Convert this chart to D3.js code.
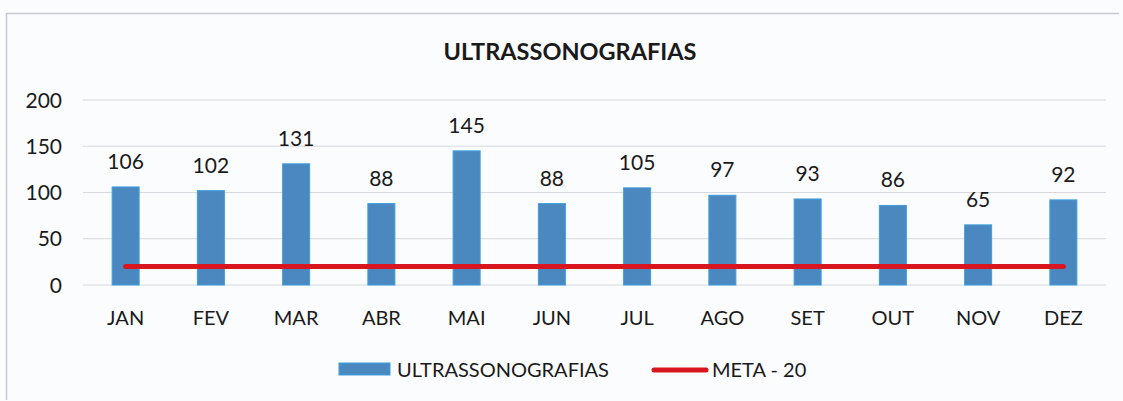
<!DOCTYPE html>
<html lang="pt">
<head>
    <meta charset="UTF-8">
    <title>Ultrassonografias</title>
    <style>
        body { margin: 0; padding: 0; background: #fbfcfe; overflow: hidden; }
        svg { display: block; font-family: Lato, "Open Sans", sans-serif; }
    </style>
</head>
<body>
    <script src="https://d3js.org/d3.v7.min.js"></script>
    <script>
        // data
        const months = ["JAN", "FEV", "MAR", "ABR", "MAI", "JUN", "JUL", "AGO", "SET", "OUT", "NOV", "DEZ"];
        const exams = [106, 102, 131, 88, 145, 88, 105, 97, 93, 86, 65, 92];
        const goal = [20, 20, 20, 20, 20, 20, 20, 20, 20, 20, 20, 20];
        const yTicks = [0, 50, 100, 150, 200];

        const width = 1123, height = 401;
        const svg = d3.select("body").append("svg")
            .attr("width", width)
            .attr("height", height);

        // faint outer frame (top and left edges visible)
        svg.append("path")
            .attr("d", "M6.5,400 L6.5,13.5 L1119,13.5")
            .attr("fill", "none")
            .attr("stroke", "#c4c8d0")
            .attr("stroke-width", 1.5);

        const x = d3.scaleBand().domain(months).range([83, 1106]);
        const y = d3.scaleLinear().domain([0, 200]).range([285, 100]);

        // gridlines
        svg.append("g").selectAll("line")
            .data(yTicks)
            .enter().append("line")
            .attr("x1", 83).attr("x2", 1106)
            .attr("y1", d => y(d)).attr("y2", d => y(d))
            .attr("stroke", "#d6d9de")
            .attr("stroke-width", 1);

        // y axis labels
        svg.append("g").selectAll("text")
            .data(yTicks)
            .enter().append("text")
            .attr("x", 62)
            .attr("y", d => y(d))
            .attr("dy", "0.36em")
            .attr("text-anchor", "end")
            .attr("font-size", 21)
            .attr("fill", "#1a1a1a")
            .text(d => d);

        // x axis labels
        svg.append("g").selectAll("text")
            .data(months)
            .enter().append("text")
            .attr("x", d => x(d) + x.bandwidth() / 2)
            .attr("y", 325)
            .attr("text-anchor", "middle")
            .attr("font-size", 20)
            .attr("fill", "#1a1a1a")
            .text(d => d);

        // bars
        const barW = 27;
        svg.append("g").selectAll("rect")
            .data(exams)
            .enter().append("rect")
            .attr("x", (d, i) => x(months[i]) + x.bandwidth() / 2 - barW / 2)
            .attr("y", d => y(d))
            .attr("width", barW)
            .attr("height", d => y(0) - y(d))
            .attr("fill", "#4a88bf")
            .attr("stroke", "#3d9ee0")
            .attr("stroke-width", 1);

        // value labels
        svg.append("g").selectAll("text")
            .data(exams)
            .enter().append("text")
            .attr("x", (d, i) => x(months[i]) + x.bandwidth() / 2)
            .attr("y", d => y(d) - 18)
            .attr("text-anchor", "middle")
            .attr("font-size", 21)
            .attr("fill", "#1a1a1a")
            .text(d => d);

        // goal line
        const line = d3.line()
            .x((d, i) => x(months[i]) + x.bandwidth() / 2)
            .y(d => y(d));
        svg.append("path")
            .datum(goal)
            .attr("d", line)
            .attr("fill", "none")
            .attr("stroke", "#d9151f")
            .attr("stroke-width", 5)
            .attr("stroke-linecap", "round");

        // title
        svg.append("text")
            .attr("x", 570)
            .attr("y", 60)
            .attr("text-anchor", "middle")
            .attr("font-size", 23.5)
            .attr("font-weight", "bold")
            .attr("fill", "#1a1a1a")
            .text("ULTRASSONOGRAFIAS");

        // legend
        const legend = svg.append("g");
        legend.append("rect")
            .attr("x", 339).attr("y", 363)
            .attr("width", 51).attr("height", 12)
            .attr("fill", "#4a88bf")
            .attr("stroke", "#3d9ee0");
        legend.append("text")
            .attr("x", 397).attr("y", 377)
            .attr("font-size", 20)
            .attr("fill", "#1a1a1a")
            .text("ULTRASSONOGRAFIAS");
        legend.append("line")
            .attr("x1", 654).attr("x2", 706)
            .attr("y1", 370).attr("y2", 370)
            .attr("stroke", "#d9151f")
            .attr("stroke-width", 5)
            .attr("stroke-linecap", "round");
        legend.append("text")
            .attr("x", 712).attr("y", 377)
            .attr("font-size", 20)
            .attr("fill", "#1a1a1a")
            .text("META - 20");
    </script>
</body>
</html>
